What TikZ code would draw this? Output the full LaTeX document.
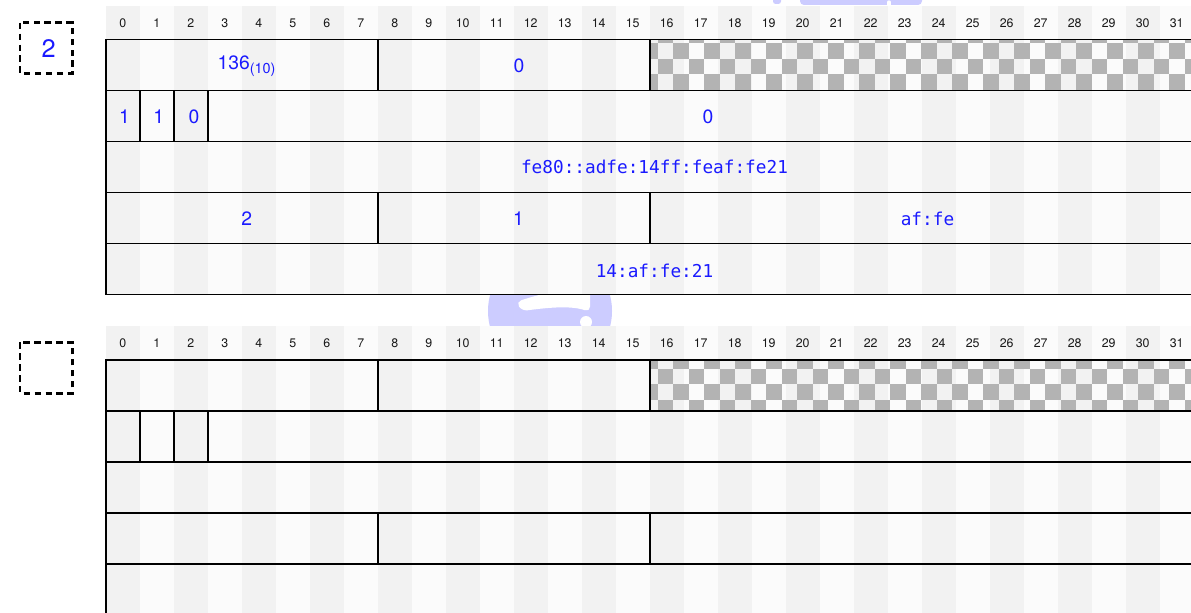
\documentclass[tikz,border=0pt]{standalone}
\usepackage{fontspec}
\setmainfont{TeX Gyre Heros}
\setmonofont{DejaVu Sans Mono}
\definecolor{stripeA}{HTML}{F2F2F2}
\definecolor{stripeB}{HTML}{FBFBFB}
\definecolor{checkgray}{HTML}{B3B3B3}
\definecolor{wmblue}{HTML}{CCCCFF}
\definecolor{lblue}{HTML}{1A1AFF}
\newcommand\bffield[4]{\draw[fieldline] ({105.7+34*#1},{#4+51*(#3-1)}) rectangle ({105.7+34*#2},{#4+51*#3});}
\begin{document}
\begin{tikzpicture}[x=0.75pt,y=-0.75pt,
 hdr/.style={font=\fontsize{9.3}{11}\selectfont, text=black!90, inner sep=0pt},
 lbl/.style={font=\fontsize{14.5}{17}\selectfont, text=lblue, inner sep=0pt},
 mlbl/.style={font=\ttfamily\fontsize{13.3}{15}\selectfont, text=lblue, inner sep=0pt},
 fieldline/.style={draw=black, line width=1.2pt},
 dashbox/.style={draw=black, line width=1.9pt, dash pattern=on 4.8pt off 3.4pt}]
\useasboundingbox (0,0) rectangle (1191,613);
\fill[white] (0,0) rectangle (1191,613);
% watermark (mostly hidden behind the diagrams)
\fill[wmblue] (550,311) circle (62);
\fill[white, rounded corners=4pt] (516,302) .. controls (540,294) and (560,290) .. (575,288) -- (590,288) -- (590,312) .. controls (570,305) and (545,308) .. (522,311) -- cycle;
\fill[white] (586,322) circle (6);
\fill[wmblue, rounded corners=3pt] (800,-40) rectangle (922,5);
\fill[wmblue, rounded corners=2pt] (773,-5) rectangle (781,4);
\draw[white, line width=2.5pt, line cap=round] (889,9) -- (889,2);
% stripes
\foreach \c in {0,2,...,30} {
  \fill[stripeA] ({105.7+34*\c},6) rectangle ++(34,288.5);
  \fill[stripeA] ({105.7+34*\c},326) rectangle ++(34,300);
}
\foreach \c in {1,3,...,31} {
  \fill[stripeB] ({105.7+34*\c},6) rectangle ++(34,288.5);
  \fill[stripeB] ({105.7+34*\c},326) rectangle ++(34,300);
}
% header numbers
\foreach \c in {0,...,31} {
  \node[hdr] (ha\c) at ({105.7+34*\c+17},23.3) {\c};
  \node[hdr] (hb\c) at ({105.7+34*\c+17},343.3) {\c};
}
% checker patterns
\begin{scope}
\clip (649.7,39.4) rectangle (1194,90.4) (649.7,360) rectangle (1194,411);
\foreach \j in {-1,0,1,2,3,20,21,22,23,24} {
  \foreach \i in {0,...,35} {
    \pgfmathparse{int(mod(\i+\j+2,2))}
    \ifnum\pgfmathresult=0
      \fill[checkgray] ({642.2+15.5*\i},{43.3+15.5*\j}) rectangle ++(15.5,15.5);
    \fi
  }
}
\end{scope}
% fields, diagram 1
\bffield{0}{8}{1}{39.4}\bffield{8}{16}{1}{39.4}\bffield{16}{32}{1}{39.4}
\bffield{0}{1}{2}{39.4}\bffield{1}{2}{2}{39.4}\bffield{2}{3}{2}{39.4}\bffield{3}{32}{2}{39.4}
\bffield{0}{32}{3}{39.4}
\bffield{0}{8}{4}{39.4}\bffield{8}{16}{4}{39.4}\bffield{16}{32}{4}{39.4}
\bffield{0}{32}{5}{39.4}
% fields, diagram 2
\bffield{0}{8}{1}{360}\bffield{8}{16}{1}{360}\bffield{16}{32}{1}{360}
\bffield{0}{1}{2}{360}\bffield{1}{2}{2}{360}\bffield{2}{3}{2}{360}\bffield{3}{32}{2}{360}
\bffield{0}{32}{3}{360}
\bffield{0}{8}{4}{360}\bffield{8}{16}{4}{360}\bffield{16}{32}{4}{360}
\bffield{0}{32}{5}{360}
% labels, diagram 1
\node[lbl, anchor=base] (f136) at (246.5,70) {136\raisebox{-3pt}{\fontsize{10.8}{12}\selectfont(10)}};
\node[lbl] (fzero) at (519,65.5) {0};
\node[lbl] (fb0) at (124.5,116.7) {1};
\node[lbl] (fb1) at (158.8,116.7) {1};
\node[lbl] (fb2) at (194,116.7) {0};
\node[lbl] (fb3) at (708,116.7) {0};
\node[mlbl] (faddr) at (654.5,167.2) {fe80::adfe:14ff:feaf:fe21};
\node[lbl] (fd0) at (246.7,219) {2};
\node[lbl] (fd1) at (518.5,219) {1};
\node[mlbl] (fd2) at (927.5,219) {af:fe};
\node[mlbl] (fe0) at (654.5,270.7) {14:af:fe:21};
% dashed boxes
\draw[dashbox] (20,22.7) rectangle (72.3,73.3);
\node[lbl, font=\fontsize{19}{21}\selectfont] (num) at (48.7,49) {2};
\draw[dashbox] (20,342.3) rectangle (72.3,393.3);
\end{tikzpicture}
\end{document}
